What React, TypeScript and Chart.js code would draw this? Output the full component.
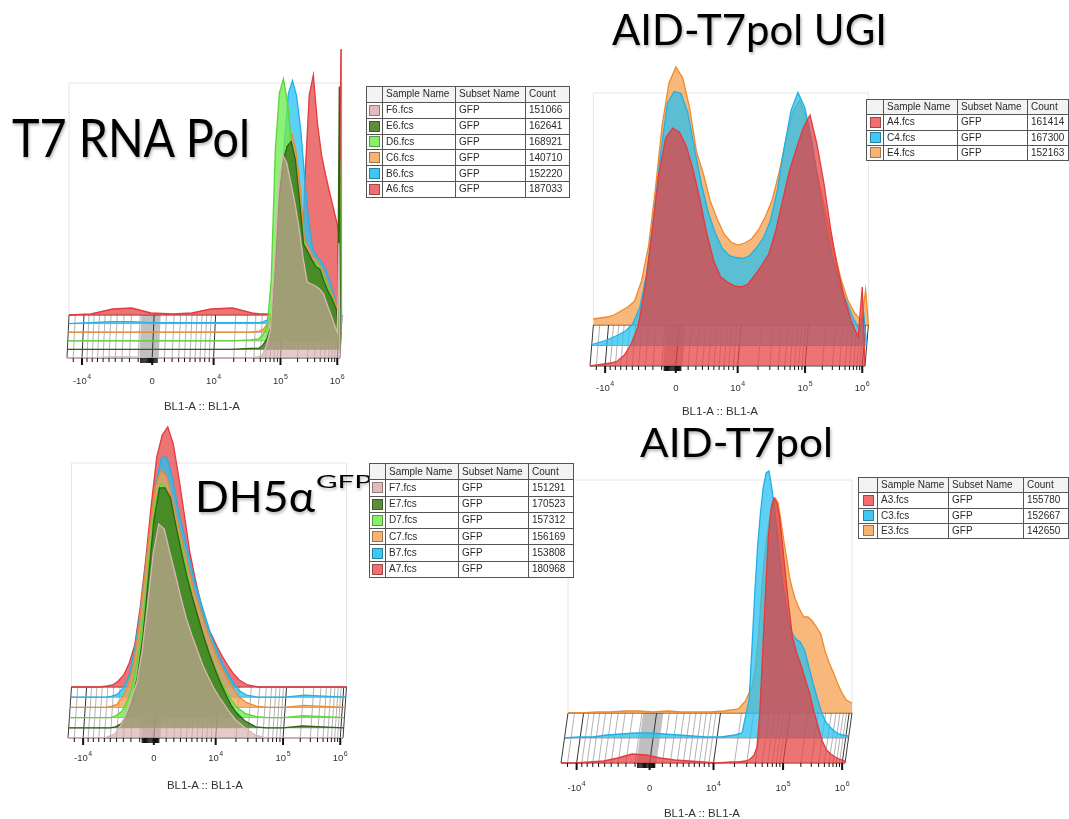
import React, { useEffect, useRef } from "react";
import { Chart, registerables } from "chart.js";

Chart.register(...registerables);

// ---------- shared axis (FlowJo display channel, 0..1000) ----------
const X_MAX = 1040;
const MAJOR_TICKS = [55, 312, 537, 782, 990];
const TICK_BASE = ["-10", "0", "10", "10", "10"];
const TICK_EXP = ["4", "", "4", "5", "6"];
const AXIS_TITLE = "BL1-A :: BL1-A";
const HEADERS = ["Sample Name", "Subset Name", "Count"];
const SUBSET = "GFP";

// ---------- Panel 1 : T7 RNA Pol ----------
const T7_BINS = [0, 80, 160, 230, 300, 380, 450, 520, 600, 670, 700, 715, 730, 745, 760, 775, 790, 805, 820, 835, 850, 865, 880, 895, 910, 925, 940, 955, 970, 985, 990, 996, 1000];
const T7_F6 = [0, 0, 1, 1, 0, 0, 0, 0, 0, 0, 1, 3, 12, 28, 95, 172, 203, 195, 175, 155, 130, 100, 76, 74, 72, 69, 64, 52, 41, 29, 26, 115, 0];
const T7_E6 = [0, 0, 0, 0, 0, 0, 0, 0, 0, 1, 1, 4, 10, 22, 80, 150, 188, 203, 208, 190, 150, 105, 98, 90, 83, 80, 68, 58, 50, 40, 25, 263, 0];
const T7_D6 = [0, 0, 0, 0, 0, 0, 0, 0, 0, 1, 2, 6, 14, 60, 190, 248, 262, 238, 195, 160, 130, 100, 82, 80, 78, 72, 62, 52, 42, 30, 22, 180, 0];
const T7_C6 = [0, 0, 0, 0, 0, 0, 0, 0, 0, 0, 1, 3, 8, 18, 55, 120, 170, 192, 198, 180, 145, 92, 85, 76, 72, 66, 56, 45, 36, 25, 20, 150, 0];
const T7_B6 = [0, 1, 2, 2, 1, 1, 1, 1, 1, 1, 1, 2, 4, 8, 20, 90, 180, 230, 243, 228, 195, 145, 100, 74, 67, 63, 55, 44, 30, 16, 10, 120, 0];
const T7_A6 = [0, 1, 6, 7, 2, 1, 2, 6, 7, 2, 1, 1, 1, 1, 1, 1, 1, 1, 2, 5, 20, 140, 220, 240, 192, 160, 140, 122, 105, 88, 75, 265, 265];
const T7_NAMES = ["F6.fcs", "E6.fcs", "D6.fcs", "C6.fcs", "B6.fcs", "A6.fcs"];
const T7_COUNTS = [151066, 162641, 168921, 140710, 152220, 187033];

// ---------- Panel 2 : AID-T7pol UGI ----------
const UGI_BINS = [0, 25, 50, 75, 100, 125, 150, 175, 200, 225, 250, 275, 300, 325, 350, 375, 400, 425, 450, 475, 500, 525, 550, 575, 600, 625, 650, 675, 700, 725, 750, 775, 800, 825, 850, 875, 900, 925, 950, 975, 990, 1000];
const UGI_A4 = [0, 1, 2, 3, 5, 11, 22, 40, 78, 133, 192, 228, 238, 234, 220, 196, 166, 132, 105, 89, 84, 80, 79, 82, 91, 101, 112, 135, 165, 195, 217, 238, 251, 222, 184, 137, 98, 68, 45, 29, 79, 0];
const UGI_C4 = [1, 3, 5, 8, 11, 15, 22, 38, 72, 128, 190, 242, 254, 252, 232, 195, 160, 132, 112, 97, 90, 88, 87, 90, 98, 108, 125, 155, 198, 235, 253, 238, 205, 160, 122, 88, 62, 45, 28, 15, 30, 0];
const UGI_E4 = [6, 7, 8, 10, 14, 18, 24, 44, 78, 135, 200, 242, 258, 247, 217, 173, 151, 124, 106, 91, 83, 80, 82, 86, 95, 108, 125, 152, 185, 213, 225, 205, 170, 137, 105, 75, 46, 25, 12, 4, 35, 0];
const UGI_NAMES = ["A4.fcs", "C4.fcs", "E4.fcs"];
const UGI_COUNTS = [161414, 167300, 152163];

// ---------- Panel 3 : DH5α GFP ----------
const DH_BINS = [0, 50, 100, 130, 150, 170, 190, 210, 230, 250, 270, 290, 310, 330, 350, 370, 390, 410, 430, 450, 470, 490, 510, 530, 550, 570, 590, 610, 640, 680, 720, 780, 850, 920, 1000];
const DH_F7 = [0, 0, 0, 0, 2, 4, 12, 23, 40, 55, 88, 135, 185, 214, 209, 186, 164, 141, 120, 103, 88, 73, 61, 50, 41, 33, 25, 18, 11, 3, 0, 0, 0, 0, 0];
const DH_E7 = [0, 0, 0, 0, 0, 1, 4, 12, 25, 52, 92, 150, 208, 240, 240, 230, 202, 176, 151, 130, 111, 92, 75, 60, 46, 34, 23, 15, 7, 1, 0, 0, 2, 1, 0];
const DH_D7 = [0, 0, 0, 0, 0, 2, 6, 16, 32, 62, 105, 160, 212, 234, 230, 214, 190, 168, 143, 118, 98, 80, 64, 50, 37, 26, 17, 10, 4, 1, 0, 0, 2, 1, 0];
const DH_C7 = [0, 0, 0, 0, 1, 3, 10, 22, 42, 80, 128, 178, 220, 237, 232, 210, 186, 163, 140, 117, 100, 83, 67, 53, 40, 29, 20, 12, 5, 1, 0, 0, 2, 1, 0];
const DH_B7 = [0, 0, 0, 0, 1, 3, 9, 20, 45, 80, 126, 172, 214, 240, 240, 218, 188, 165, 140, 116, 98, 80, 62, 48, 35, 24, 15, 7, 2, 0, 0, 0, 2, 1, 0];
const DH_A7 = [0, 0, 0, 1, 2, 6, 12, 24, 42, 80, 128, 182, 230, 252, 260, 243, 210, 173, 135, 108, 84, 62, 52, 40, 30, 21, 13, 7, 2, 0, 0, 0, 0, 0, 0];
const DH_NAMES = ["F7.fcs", "E7.fcs", "D7.fcs", "C7.fcs", "B7.fcs", "A7.fcs"];
const DH_COUNTS = [151291, 170523, 157312, 156169, 153808, 180968];

// ---------- Panel 4 : AID-T7pol ----------
const AID_BINS = [0, 50, 100, 150, 200, 250, 300, 350, 400, 450, 500, 550, 600, 625, 650, 660, 670, 680, 690, 700, 710, 720, 730, 740, 750, 760, 770, 780, 790, 800, 815, 830, 845, 860, 875, 890, 905, 920, 935, 950, 965, 980, 1000];
const AID_A3 = [0, 0, 1, 2, 5, 9, 8, 5, 3, 2, 1, 0, 1, 1, 2, 3, 5, 8, 16, 50, 110, 170, 226, 255, 265, 260, 245, 218, 190, 162, 126, 110, 98, 84, 70, 52, 37, 22, 13, 9, 6, 4, 2];
const AID_C3 = [0, 1, 1, 3, 4, 5, 5, 4, 3, 2, 1, 1, 3, 5, 38, 90, 145, 192, 225, 251, 265, 267, 250, 228, 203, 175, 151, 132, 115, 106, 99, 96, 88, 72, 55, 40, 26, 16, 11, 7, 4, 3, 2];
const AID_E3 = [0, 0, 1, 1, 2, 2, 1, 2, 1, 1, 1, 2, 4, 12, 28, 45, 75, 115, 150, 176, 195, 212, 215, 210, 192, 172, 155, 136, 124, 114, 104, 96, 96, 92, 86, 79, 62, 50, 40, 29, 20, 13, 10];
const AID_NAMES = ["A3.fcs", "C3.fcs", "E3.fcs"];
const AID_COUNTS = [155780, 152667, 142650];

// ---------- styles ----------
const COLORS: any = {
  red: { fill: "rgba(230,62,64,0.72)", line: "#e23b40", swatch: "#f26d70" },
  blue: { fill: "rgba(40,192,240,0.75)", line: "#1fb1e6", swatch: "#3dc9f4" },
  orange: { fill: "rgba(246,160,80,0.75)", line: "#f0892c", swatch: "#f8b373" },
  green: { fill: "rgba(110,236,80,0.78)", line: "#5bd638", swatch: "#86f06a" },
  dkgreen: { fill: "rgba(58,120,28,0.8)", line: "#2e6314", swatch: "#5e8c3c" },
  pink: { fill: "rgba(214,170,166,0.62)", line: "#dcb6b4", swatch: "#e2bcbc" },
};

const SIX = ["pink", "dkgreen", "green", "orange", "blue", "red"];
const THREE = ["red", "blue", "orange"];

const mk = (names: string[], counts: number[], values: number[][], colors: string[]) =>
  names.map((n, i) => ({ name: n, count: counts[i], values: values[i], color: colors[i] }));

const PANELS: any[] = [
  {
    bins: T7_BINS,
    layers: mk(T7_NAMES, T7_COUNTS, [T7_F6, T7_E6, T7_D6, T7_C6, T7_B6, T7_A6], SIX),
    L: 67, W: 273, B: 358, T: 40, dyPx: 8.6, dxPx: 0.4, labelDy: 25.5, frameTopPx: 83,
    legend: { left: 366, top: 86, width: 203, height: 111, cols: [16, 73, 70, 44] },
  },
  {
    bins: UGI_BINS,
    layers: mk(UGI_NAMES, UGI_COUNTS, [UGI_A4, UGI_C4, UGI_E4], THREE),
    L: 590, W: 275, B: 366, T: 55, dyPx: 20.5, dxPx: 1.7, labelDy: 24.5, frameTopPx: 93,
    legend: { left: 866, top: 99, width: 202, height: 61, cols: [17, 74, 70, 41] },
  },
  {
    bins: DH_BINS,
    layers: mk(DH_NAMES, DH_COUNTS, [DH_F7, DH_E7, DH_D7, DH_C7, DH_B7, DH_A7], SIX),
    L: 68, W: 275, B: 738, T: 415, dyPx: 10.2, dxPx: 0.7, labelDy: 22.5, frameTopPx: 463,
    legend: { left: 369, top: 463, width: 204, height: 114, cols: [16, 73, 70, 45] },
  },
  {
    bins: AID_BINS,
    layers: mk(AID_NAMES, AID_COUNTS, [AID_A3, AID_C3, AID_E3], THREE),
    L: 561, W: 284, B: 763, T: 460, dyPx: 25, dxPx: 3.5, labelDy: 27.5, frameTopPx: 480,
    legend: { left: 858, top: 477, width: 210, height: 61, cols: [19, 71, 75, 45] },
  },
];

const TITLES = [
  { text: "T7 RNA Pol", x: 12, y: 157, size: 52, w: 238 },
  { text: "AID-T7pol UGI", x: 612, y: 45, size: 42, w: 275 },
  { text: "DH5α", x: 195, y: 512, size: 43, w: 120 },
  { text: "GFP", x: 316, y: 488, size: 18, w: 56 },
  { text: "AID-T7pol", x: 640, y: 457, size: 41, w: 193 },
];
const AXIS_TITLE_POS = [
  [202, 410],
  [720, 415],
  [205, 789],
  [702, 817],
];

// axis decoration tick positions (channel units) derived from the major ticks
function minorTicks(): number[] {
  const [nm, z, p4, p5, p6] = MAJOR_TICKS;
  const out: number[] = [nm - 32];
  for (let m = 1; m < 10; m++) {
    out.push(z - (z - nm) * Math.pow(m / 10, 0.7));
    out.push(z + (p4 - z) * Math.pow(m / 10, 0.7));
  }
  for (let m = 2; m < 10; m++) {
    out.push(p4 + (p5 - p4) * Math.log10(m));
    out.push(p5 + (p6 - p5) * Math.log10(m));
  }
  return out;
}
function denseTicks(): number[] {
  const out: number[] = [];
  for (let t = 270; t <= 332; t += 4) out.push(t);
  return out;
}
const MINOR = minorTicks();
const DENSE = denseTicks();

const floorPlugin = {
  id: "floor",
  beforeDatasetsDraw(chart: any, _a: any, o: any) {
    const ctx = chart.ctx;
    const xs = chart.scales.x;
    const ys = chart.scales.y;
    const top = o.layers - 1;
    const X = (ch: number, k: number) => xs.getPixelForValue(ch + k * o.dxCh);
    const Y = (k: number) => ys.getPixelForValue(k * o.dyU);
    ctx.save();
    const fy = ys.getPixelForValue(o.frameTop);
    ctx.strokeStyle = "#e6e6e6";
    ctx.lineWidth = 1;
    ctx.beginPath();
    ctx.moveTo(X(0, top), Y(top));
    ctx.lineTo(X(0, top), fy);
    ctx.lineTo(X(1000, top), fy);
    ctx.lineTo(X(1000, top), Y(top));
    ctx.stroke();
    ctx.fillStyle = "rgba(90,90,90,0.38)";
    ctx.beginPath();
    ctx.moveTo(X(265, 0), Y(0));
    ctx.lineTo(X(336, 0), Y(0));
    ctx.lineTo(X(336, top), Y(top));
    ctx.lineTo(X(265, top), Y(top));
    ctx.closePath();
    ctx.fill();
    const vline = (t: number) => {
      ctx.beginPath();
      ctx.moveTo(X(t, 0), Y(0));
      ctx.lineTo(X(t, top), Y(top));
      ctx.stroke();
    };
    ctx.strokeStyle = "rgba(80,80,80,0.55)";
    ctx.lineWidth = 0.8;
    MINOR.forEach(vline);
    ctx.strokeStyle = "#333";
    ctx.lineWidth = 1;
    MAJOR_TICKS.forEach(vline);
    for (let k = 0; k <= top; k++) {
      ctx.strokeStyle = k === 0 || k === top ? "#3a3a3a" : "#a0a0a0";
      ctx.beginPath();
      ctx.moveTo(X(0, k), Y(k));
      ctx.lineTo(X(1000, k), Y(k));
      ctx.stroke();
    }
    ctx.strokeStyle = "#3a3a3a";
    [0, 1000].forEach(vline);
    ctx.restore();
  },
  afterDatasetsDraw(chart: any, _a: any, o: any) {
    const ctx = chart.ctx;
    const xs = chart.scales.x;
    const ys = chart.scales.y;
    const y0 = ys.getPixelForValue(0);
    ctx.save();
    ctx.strokeStyle = "#111";
    const tick = (t: number, len: number) => {
      const x = xs.getPixelForValue(t);
      ctx.beginPath();
      ctx.moveTo(x, y0);
      ctx.lineTo(x, y0 + len);
      ctx.stroke();
    };
    ctx.lineWidth = 1.2;
    DENSE.forEach((t) => tick(t, 5));
    ctx.lineWidth = 1;
    MINOR.forEach((t) => tick(t, 4));
    ctx.lineWidth = 2;
    MAJOR_TICKS.forEach((t) => tick(t, 7));
    ctx.fillStyle = "#333";
    ctx.textBaseline = "alphabetic";
    const fb = "9.5px 'Liberation Sans', Arial, sans-serif";
    const fe = "7px 'Liberation Sans', Arial, sans-serif";
    MAJOR_TICKS.forEach((t, i) => {
      const x = xs.getPixelForValue(t);
      const y = y0 + o.labelDy;
      ctx.font = fb;
      const wb = ctx.measureText(TICK_BASE[i]).width;
      ctx.font = fe;
      const we = TICK_EXP[i] ? ctx.measureText(TICK_EXP[i]).width + 0.5 : 0;
      const x0 = x - (wb + we) / 2;
      ctx.font = fb;
      ctx.fillText(TICK_BASE[i], x0, y);
      if (TICK_EXP[i]) {
        ctx.font = fe;
        ctx.fillText(TICK_EXP[i], x0 + wb + 0.5, y - 4.5);
      }
    });
    ctx.restore();
  },
};

function PanelChart({ p }: { p: any }) {
  const ref = useRef<HTMLCanvasElement>(null);
  const padL = 30;
  const padT = 10;
  const padB = 40;
  const areaW = (p.W * X_MAX) / 1000;
  const areaH = p.B - p.T;
  const width = Math.ceil(padL + areaW + 12);
  const padR = width - padL - areaW;
  const height = padT + areaH + padB;

  useEffect(() => {
    const dxCh = (p.dxPx * 1000) / p.W;
    const datasets = p.layers.map((layer: any, k: number) => {
      const c = COLORS[layer.color];
      const base = k * p.dyPx;
      return {
        label: layer.name,
        data: p.bins.map((b: number, j: number) => ({ x: b + k * dxCh, y: base + layer.values[j] })),
        fill: { value: base },
        backgroundColor: c.fill,
        borderColor: c.line,
        borderWidth: 1.3,
        pointRadius: 0,
        tension: 0,
        clip: false,
      };
    });
    const chart = new Chart(ref.current as HTMLCanvasElement, {
      type: "line",
      data: { datasets },
      options: {
        animation: false,
        responsive: false,
        maintainAspectRatio: false,
        events: [],
        layout: { padding: { left: padL, right: padR, top: padT, bottom: padB } },
        scales: {
          x: { type: "linear", min: 0, max: X_MAX, display: false },
          y: { type: "linear", min: 0, max: areaH, display: false },
        },
        plugins: {
          legend: { display: false },
          tooltip: { enabled: false },
          floor: {
            layers: p.layers.length,
            dxCh,
            dyU: p.dyPx,
            frameTop: p.B - p.frameTopPx,
            labelDy: p.labelDy,
          },
        } as any,
      },
      plugins: [floorPlugin as any],
    } as any);
    return () => chart.destroy();
  }, [p]);

  return (
    <canvas
      ref={ref}
      width={width}
      height={height}
      style={{ position: "absolute", left: p.L - padL, top: p.T - padT, width, height, zIndex: 1 }}
    />
  );
}

function Legend({ p }: { p: any }) {
  const lg = p.legend;
  const rowH = lg.height / (p.layers.length + 1);
  const cell: any = {
    border: "1px solid #555",
    padding: "0 0 0 3px",
    height: rowH - 1,
    whiteSpace: "nowrap",
    overflow: "hidden",
    lineHeight: "10px",
    textAlign: "left",
  };
  return (
    <table
      style={{
        position: "absolute",
        left: lg.left,
        top: lg.top,
        width: lg.width,
        borderCollapse: "collapse",
        tableLayout: "fixed",
        font: "10px 'Liberation Sans', Arial, sans-serif",
        color: "#2a2a2a",
        background: "#fff",
        zIndex: 3,
        border: "1px solid #444",
      }}
    >
      <colgroup>
        {lg.cols.map((w: number, i: number) => (
          <col key={i} style={{ width: w }} />
        ))}
      </colgroup>
      <tbody>
        <tr style={{ background: "#f3f3f3" }}>
          <td style={cell}></td>
          {HEADERS.map((h) => (
            <td key={h} style={cell}>
              {h}
            </td>
          ))}
        </tr>
        {p.layers.map((l: any) => (
          <tr key={l.name}>
            <td style={{ ...cell, padding: 0 }}>
              <div
                style={{
                  width: 9,
                  height: 9,
                  margin: "0 auto",
                  background: COLORS[l.color].swatch,
                  border: "1px solid rgba(0,0,0,0.35)",
                }}
              />
            </td>
            <td style={cell}>{l.name}</td>
            <td style={cell}>{SUBSET}</td>
            <td style={cell}>{l.count}</td>
          </tr>
        ))}
      </tbody>
    </table>
  );
}

export default function App() {
  return (
    <div
      style={{
        position: "absolute",
        left: 0,
        top: 0,
        width: 1069,
        height: 819,
        overflow: "hidden",
        background: "#fff",
      }}
    >
      {PANELS.map((p, i) => (
        <PanelChart key={i} p={p} />
      ))}
      <svg
        width={1069}
        height={819}
        style={{ position: "absolute", left: 0, top: 0, zIndex: 2, pointerEvents: "none" }}
      >
        <g
          fontFamily="Lato, 'Open Sans', sans-serif"
          fill="#000"
          style={{ filter: "drop-shadow(1.5px 2px 1.5px rgba(0,0,0,0.3))" }}
        >
          {TITLES.map((t, i) => (
            <text key={i} x={t.x} y={t.y} fontSize={t.size} textLength={t.w} lengthAdjust="spacingAndGlyphs">
              {t.text}
            </text>
          ))}
        </g>
        <g fontFamily="'Liberation Sans', Arial, sans-serif" fontSize={11.5} fill="#333" textAnchor="middle">
          {AXIS_TITLE_POS.map((a, i) => (
            <text key={i} x={a[0]} y={a[1]}>
              {AXIS_TITLE}
            </text>
          ))}
        </g>
      </svg>
      {PANELS.map((p, i) => (
        <Legend key={i} p={p} />
      ))}
    </div>
  );
}
